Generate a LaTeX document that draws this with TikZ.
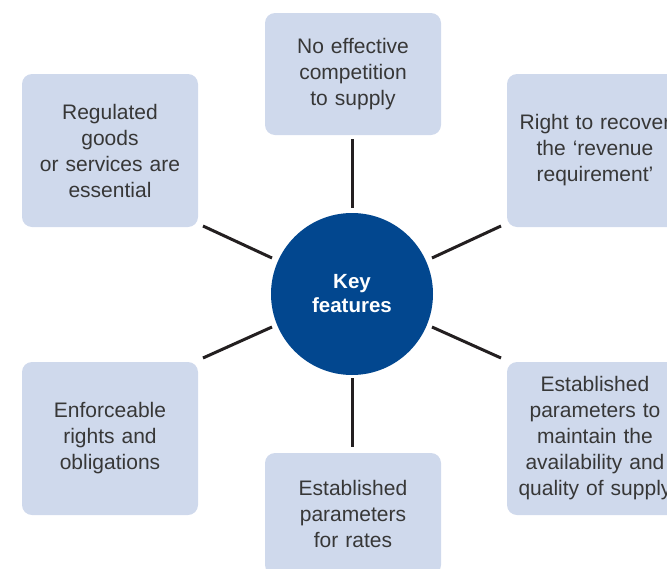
\documentclass[tikz,border=0pt]{standalone}
\usepackage{fontspec}
\setmainfont{Liberation Sans}
\definecolor{boxfill}{RGB}{207,217,236}
\definecolor{txt}{RGB}{55,55,55}
\definecolor{hub}{RGB}{2,71,143}
\definecolor{linec}{RGB}{35,31,32}
\begin{document}
\begin{tikzpicture}[x=1pt,y=-1pt,
  feat/.style={fill=boxfill,rounded corners=10pt,minimum width=176pt,text width=172pt,align=center,
    font=\fontsize{21}{26}\selectfont,text=txt,inner sep=0pt},
  spoke/.style={draw=linec,line width=3pt}]
\useasboundingbox (0,0) rectangle (667,568);
\clip (0,0) rectangle (667,568);
\node[fill=hub,circle,minimum size=162pt,inner sep=0pt,text=white,align=center,
  font=\bfseries\fontsize{20.5}{24}\selectfont] (c) at (352,294) {Key\\features};
\node[feat,minimum height=122pt] (t) at (353,74) {No effective\\competition\\to supply};
\node[feat,minimum height=153pt] (lt) at (110,150.5) {Regulated\\goods\\or services are\\essential};
\node[feat,minimum height=153pt] (rt) at (595,150.5) {Right to recover\\the ‘revenue\\requirement’};
\node[feat,minimum height=153pt] (lb) at (110,438.5) {Enforceable\\rights and\\obligations};
\node[feat,minimum height=122pt] (b) at (353,514) {Established\\parameters\\for rates};
\node[feat,minimum height=153pt] (rb) at (595,438.5) {Established\\parameters to\\maintain the\\availability and\\quality of supply};
\coordinate (t1) at (352,139); \coordinate (t2) at (352,208);
\coordinate (b1) at (352,378); \coordinate (b2) at (352,447);
\coordinate (lt1) at (203,226); \coordinate (lt2) at (272,258);
\coordinate (rt1) at (501,226); \coordinate (rt2) at (432,258);
\coordinate (lb1) at (203,358); \coordinate (lb2) at (272,327);
\coordinate (rb1) at (501,358); \coordinate (rb2) at (432,327);
\draw[spoke] (t1) -- (t2);
\draw[spoke] (b1) -- (b2);
\draw[spoke] (lt1) -- (lt2);
\draw[spoke] (rt1) -- (rt2);
\draw[spoke] (lb1) -- (lb2);
\draw[spoke] (rb1) -- (rb2);
\end{tikzpicture}
\end{document}
